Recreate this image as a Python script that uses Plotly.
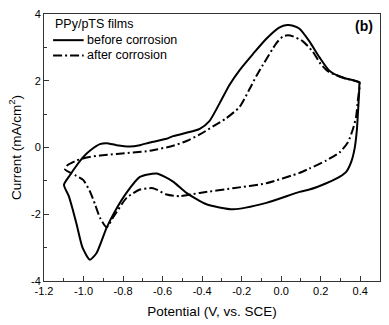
import plotly.graph_objects as go

# Before corrosion (solid): anodic sweep then cathodic sweep
before_x = [-1.099, -1.069, -1.035, -1.002, -0.968, -0.917, -0.883, -0.833, -0.766, -0.715,
            -0.665, -0.58, -0.547, -0.479, -0.412, -0.362, -0.311, -0.261, -0.21, -0.143,
            -0.075, -0.008, 0.030, 0.06, 0.093, 0.143, 0.194, 0.244, 0.312, 0.36, 0.396,
            0.396, 0.394, 0.388, 0.383, 0.371, 0.354, 0.329, 0.295, 0.228, 0.143, 0.093,
            -0.075, -0.244, -0.378, -0.479, -0.547, -0.631, -0.715, -0.782, -0.84, -0.883,
            -0.934, -0.968, -1.005, -1.035, -1.055, -1.075, -1.099]
before_y = [-1.12, -0.83, -0.54, -0.29, -0.10, 0.10, 0.13, 0.07, 0.03, 0.07,
            0.15, 0.26, 0.34, 0.44, 0.56, 0.80, 1.33, 1.88, 2.32, 2.80,
            3.26, 3.60, 3.67, 3.65, 3.56, 3.18, 2.70, 2.30, 2.09, 2.02, 1.95,
            1.95, 1.6, 1.0, 0.53, -0.05, -0.44, -0.73, -0.88, -1.07, -1.26, -1.33,
            -1.66, -1.85, -1.70, -1.36, -1.02, -0.78, -0.88, -1.35, -1.9, -2.4,
            -3.16, -3.36, -3.0, -2.3, -1.85, -1.45, -1.12]

# After corrosion (dash-dot)
after_x = [-1.094, -1.085, -1.035, -0.984, -0.917, -0.833, -0.749, -0.665, -0.631, -0.547,
           -0.479, -0.412, -0.345, -0.277, -0.21, -0.16, -0.125, -0.092, -0.025, 0.009,
           0.034, 0.06, 0.11, 0.16, 0.2, 0.24, 0.3, 0.35, 0.396,
           0.392, 0.388, 0.379, 0.362, 0.337, 0.295, 0.228, 0.143, 0.093, -0.075,
           -0.244, -0.412, -0.513, -0.58, -0.648, -0.715, -0.782, -0.85, -0.883, -0.917,
           -0.942, -0.968, -1.002, -1.043, -1.094]
after_y = [-0.65, -0.55, -0.39, -0.30, -0.24, -0.195, -0.15, -0.10, -0.06, 0.05,
           0.195, 0.39, 0.63, 0.88, 1.22, 1.75, 2.15, 2.48, 3.12, 3.33,
           3.36, 3.33, 3.18, 2.87, 2.5, 2.27, 2.12, 2.03, 1.95,
           1.6, 1.41, 0.92, 0.53, 0.15, -0.15, -0.39, -0.63, -0.76, -1.07,
           -1.22, -1.36, -1.46, -1.41, -1.22, -1.26, -1.51, -2.09, -2.39, -2.1,
           -1.70, -1.31, -0.97, -0.83, -0.65]

series_names = ["before corrosion", "after corrosion"]
legend_title = "PPy/pTS films"
panel_label = "(b)"

x_tickvals = [-1.2, -1.0, -0.8, -0.6, -0.4, -0.2, 0.0, 0.2, 0.4]
x_ticktext = ["-1.2", "-1.0", "-0.8", "-0.6", "-0.4", "-0.2", "0.0", "0.2", "0.4"]
y_tickvals = [-4, -2, 0, 2, 4]
y_ticktext = ["-4", "-2", "0", "2", "4"]

font_family = "Liberation Sans, Arial, sans-serif"
DASHDOT = "9px,3px,2px,3px"

fig = go.Figure()
fig.add_trace(go.Scatter(x=before_x, y=before_y, mode="lines", name=series_names[0],
                         showlegend=False,
                         line=dict(color="black", width=2, shape="spline", smoothing=0.6)))
fig.add_trace(go.Scatter(x=after_x, y=after_y, mode="lines", name=series_names[1],
                         showlegend=False,
                         line=dict(color="black", width=2, shape="spline", smoothing=0.6,
                                   dash=DASHDOT)))

# manual legend (paper coordinates)
leg_rows_y = [0.902, 0.845]
leg_dash = ["solid", DASHDOT]
shapes = []
annotations = [dict(text=legend_title, x=0.027, y=0.962, xref="paper", yref="paper",
                    xanchor="left", yanchor="middle", showarrow=False,
                    font=dict(size=12.5, family=font_family, color="black"))]
for name, yy, dsh in zip(series_names, leg_rows_y, leg_dash):
    shapes.append(dict(type="line", xref="paper", yref="paper", x0=0.027, x1=0.118,
                       y0=yy, y1=yy, line=dict(color="black", width=2, dash=dsh)))
    annotations.append(dict(text=name, x=0.122, y=yy, xref="paper", yref="paper",
                            xanchor="left", yanchor="middle", showarrow=False,
                            font=dict(size=12.5, family=font_family, color="black")))
annotations.append(dict(text="<b>" + panel_label + "</b>", x=0.985, y=0.956,
                        xref="paper", yref="paper", xanchor="right", yanchor="middle",
                        showarrow=False, font=dict(size=14, family=font_family, color="black")))

fig.update_layout(
    width=389, height=325,
    margin=dict(l=44, r=8, t=8, b=43),
    paper_bgcolor="white", plot_bgcolor="white",
    font=dict(family=font_family, color="black", size=11),
    showlegend=False,
    xaxis=dict(range=[-1.2, 0.5], tickvals=x_tickvals, ticktext=x_ticktext,
               ticks="inside", ticklen=5, tickcolor="#333", showline=True,
               linecolor="#333", linewidth=1, mirror=True, showgrid=False, zeroline=False,
               minor=dict(dtick=0.1, ticks="inside", ticklen=3, tickcolor="#333", showgrid=False),
               tickfont=dict(size=11),
               title=dict(text="Potential (V, vs. SCE)", font=dict(size=13.5), standoff=10)),
    yaxis=dict(range=[-4, 4], tickvals=y_tickvals, ticktext=y_ticktext,
               ticks="inside", ticklen=5, tickcolor="#333", showline=True,
               linecolor="#333", linewidth=1, mirror=True, showgrid=False, zeroline=False,
               minor=dict(dtick=1, ticks="inside", ticklen=3, tickcolor="#333", showgrid=False),
               tickfont=dict(size=11),
               title=dict(text="Current (mA/cm<sup>2</sup>)", font=dict(size=13.5), standoff=6)),
    shapes=shapes,
    annotations=annotations,
)

fig.write_html("out.html")
